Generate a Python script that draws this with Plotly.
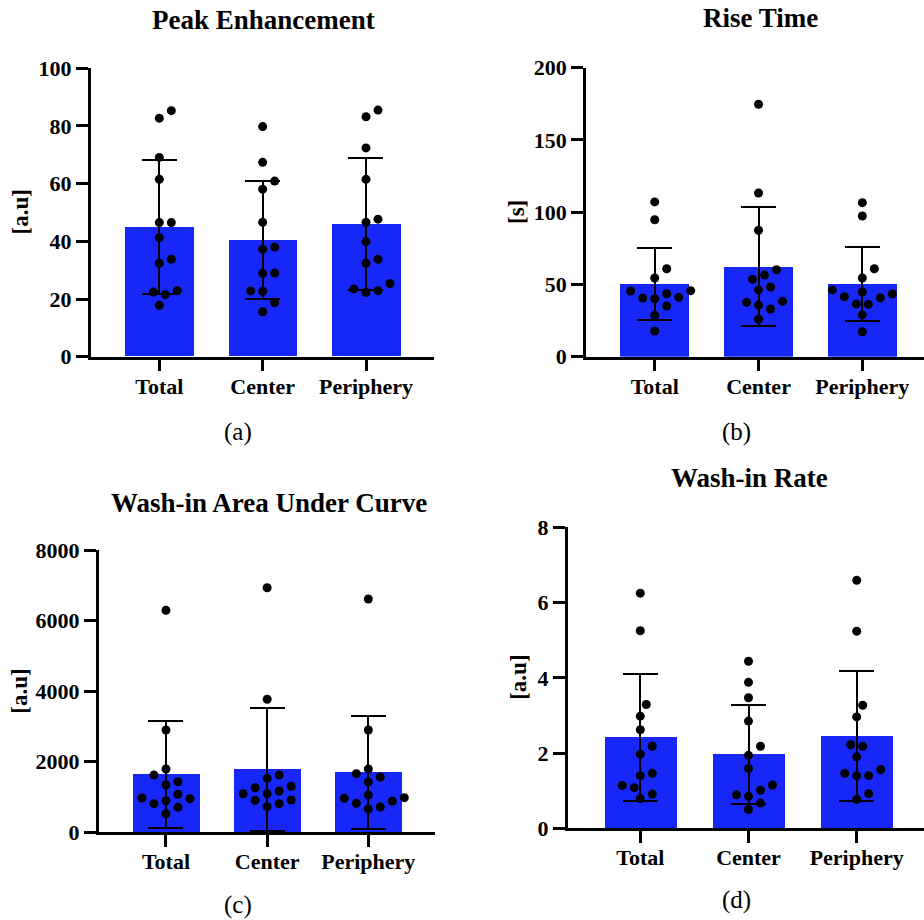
import numpy as np
import plotly.graph_objects as go

# ---------------- data ----------------
categories = ["Total", "Center", "Periphery"]

peak_total = [85.3, 82.7, 69.1, 61.5, 46.5, 46.5, 41.3, 33.8, 32.4, 22.9, 22.4, 21.5, 17.8]
peak_center = [79.8, 67.4, 60.9, 58.1, 46.6, 37.3, 38.0, 28.9, 29.0, 22.7, 22.8, 18.7, 15.6]
peak_periphery = [85.5, 83.2, 72.4, 61.5, 46.6, 47.7, 39.9, 32.4, 33.8, 25.4, 22.3, 23.5, 22.9]

rise_total = [107.1, 94.8, 60.9, 54.5, 43.6, 40.1, 45.7, 40.6, 41.1, 45.5, 35.1, 28.6, 17.8]
rise_center = [174.7, 113.3, 87.5, 60.2, 53.6, 56.5, 46.2, 48.2, 38.3, 35.8, 37.6, 33.0, 25.9]
rise_periphery = [106.6, 97.4, 60.9, 54.5, 40.8, 43.4, 46.2, 41.5, 44.8, 36.5, 36.2, 28.9, 17.3]

auc_total = [6291, 2899, 1794, 1624, 1434, 1349, 1077, 811, 972, 952, 895, 708, 527]
auc_center = [6931, 3769, 1530, 1624, 1303, 1264, 1094, 1170, 1094, 811, 907, 915, 726]
auc_periphery = [6612, 2899, 1794, 1662, 1567, 1426, 1057, 963, 981, 718, 822, 888, 661]

rate_total = [6.25, 5.25, 3.29, 2.98, 2.62, 2.18, 1.97, 1.40, 1.46, 1.14, 1.08, 0.91, 0.79]
rate_center = [4.44, 3.88, 3.47, 2.85, 2.18, 1.94, 1.59, 1.15, 1.01, 0.89, 0.85, 0.67, 0.50]
rate_periphery = [6.59, 5.24, 3.27, 2.96, 2.18, 2.22, 1.90, 1.40, 1.56, 1.40, 1.46, 0.92, 0.77]

panel_titles = ["Peak Enhancement", "Rise Time", "Wash-in Area Under Curve", "Wash-in Rate"]
panel_ylabels = ["[a.u]", "[s]", "[a.u]", "[a.u]"]
panel_tags = ["(a)", "(b)", "(c)", "(d)"]
peak_ticks = [0, 20, 40, 60, 80, 100]
rise_ticks = [0, 50, 100, 150, 200]
auc_ticks = [0, 2000, 4000, 6000, 8000]
rate_ticks = [0, 2, 4, 6, 8]

panel_data = [
    [peak_total, peak_center, peak_periphery],
    [rise_total, rise_center, rise_periphery],
    [auc_total, auc_center, auc_periphery],
    [rate_total, rate_center, rate_periphery],
]
panel_ticks = [peak_ticks, rise_ticks, auc_ticks, rate_ticks]

# ---------------- layout geometry (px) ----------------
W, H = 924, 920
# x0, x1, y_top, y_bottom, x-range
geom = [
    (90.7, 434.0, 68.3, 356.7, (-0.664, 2.658)),
    (586.0, 924.0, 67.7, 356.7, (-0.662, 2.594)),
    (98.7, 435.0, 550.0, 832.3, (-0.665, 2.659)),
    (567.7, 924.0, 527.3, 828.3, (-0.671, 2.622)),
]
title_pos = [(263.0, 20.3), (760.8, 17.5), (268.8, 502.5), (749.3, 477.5)]
ylabel_pos = [(20.0, 212.5), (516.7, 212.3), (19.5, 691.2), (519.0, 677.8)]
tag_pos = [(238.0, 432.0), (736.0, 432.0), (238.3, 905.0), (736.0, 900.0)]

BAR_COLOR = "#1727F8"
FONT = "Liberation Serif, Times New Roman, serif"
DOT = 9.0


def swarm_offsets(vals, py_per_unit, d=DOT, gap=3.0):
    """Greedy beeswarm: returns horizontal pixel offsets so dots do not overlap."""
    vals = np.asarray(vals, dtype=float)
    order = np.argsort(vals, kind="stable")
    step = (d + gap) / 2.0
    cands = [0.0]
    for n in range(1, 60):
        cands += [n * step, -n * step]
    placed = []
    offs = np.zeros(len(vals))
    for i in order:
        y = vals[i] * py_per_unit
        for c in cands:
            if all((c - px) ** 2 + (y - py) ** 2 >= (d + gap) ** 2 - 1e-9 for px, py in placed):
                break
        offs[i] = c
        placed.append((c, y))
    return offs


fig = go.Figure()
annotations = []

for p in range(4):
    x0, x1, yt, yb, xr = geom[p]
    xa = "x" if p == 0 else f"x{p+1}"
    ya = "y" if p == 0 else f"y{p+1}"
    ticks = panel_ticks[p]
    ymax = ticks[-1]
    px_per_x = (x1 - x0) / (xr[1] - xr[0])
    px_per_y = (yb - yt) / (ymax - 0)

    groups = panel_data[p]
    means = [float(np.mean(g)) for g in groups]
    sds = [float(np.std(g, ddof=1)) for g in groups]

    fig.add_trace(go.Bar(
        x=[0, 1, 2], y=means, width=0.665,
        marker=dict(color=BAR_COLOR, line=dict(width=0)),
        error_y=dict(type="data", array=sds, visible=True, color="black",
                     thickness=2, width=17.5),
        xaxis=xa, yaxis=ya, showlegend=False, hoverinfo="skip",
    ))
    for gi, g in enumerate(groups):
        offs = swarm_offsets(g, px_per_y)
        fig.add_trace(go.Scatter(
            x=gi + offs / px_per_x, y=g, mode="markers",
            marker=dict(color="black", size=DOT, line=dict(width=0)),
            xaxis=xa, yaxis=ya, showlegend=False, cliponaxis=False,
        ))

    axis_common = dict(
        showline=True, linecolor="black", linewidth=2.5,
        ticks="outside", ticklen=12, tickwidth=2.5, tickcolor="black",
        showgrid=False, zeroline=False, automargin=False,
        tickfont=dict(family=FONT, size=22, color="black", weight="bold"),
    )
    xkey = "xaxis" if p == 0 else f"xaxis{p+1}"
    ykey = "yaxis" if p == 0 else f"yaxis{p+1}"
    fig.layout[xkey] = dict(
        domain=[x0 / W, x1 / W], range=list(xr), anchor=ya,
        tickmode="array", tickvals=[0, 1, 2], ticktext=categories,
        ticklabelstandoff=-4, fixedrange=True, **axis_common,
    )
    fig.layout[ykey] = dict(
        domain=[1 - yb / H, 1 - yt / H], range=[0, ymax], anchor=xa,
        tickmode="array", tickvals=ticks, ticktext=[str(t) for t in ticks],
        fixedrange=True, **axis_common,
    )

    tx, ty = title_pos[p]
    annotations.append(dict(
        text=panel_titles[p], x=tx / W, y=1 - ty / H, xref="paper", yref="paper",
        xanchor="center", yanchor="middle", showarrow=False,
        font=dict(family=FONT, size=27, color="black", weight="bold"),
    ))
    lx, ly = ylabel_pos[p]
    annotations.append(dict(
        text=panel_ylabels[p], x=lx / W, y=1 - ly / H, xref="paper", yref="paper",
        xanchor="center", yanchor="middle", showarrow=False, textangle=-90,
        font=dict(family=FONT, size=23, color="black", weight="bold"),
    ))
    gx, gy = tag_pos[p]
    annotations.append(dict(
        text=panel_tags[p], x=gx / W, y=1 - gy / H, xref="paper", yref="paper",
        xanchor="center", yanchor="middle", showarrow=False,
        font=dict(family=FONT, size=25, color="black"),
    ))

fig.update_layout(
    width=W, height=H, autosize=False,
    margin=dict(l=0, r=0, t=0, b=0, pad=0),
    paper_bgcolor="white", plot_bgcolor="white",
    annotations=annotations, bargap=0,
)

fig.write_html("out.html", config={"displayModeBar": False})
